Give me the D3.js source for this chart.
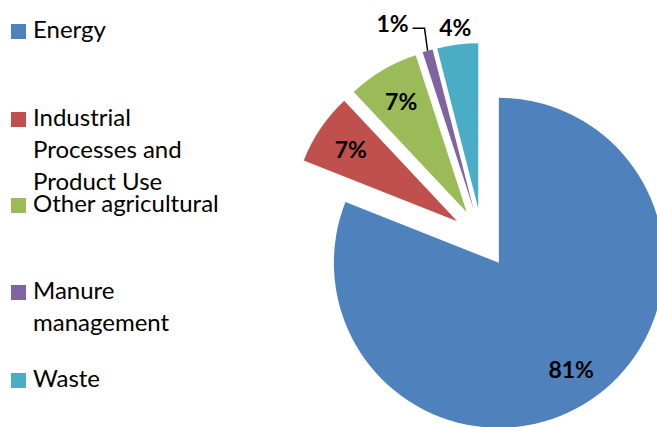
<!DOCTYPE html>
<html>
<head>
<meta charset="utf-8">
<script src="https://cdn.jsdelivr.net/npm/d3@7"></script>
<style>
  body { margin: 0; background: #fff; }
  svg { display: block; }
  text { font-family: Lato, "Open Sans", sans-serif; }
</style>
</head>
<body>
<svg id="chart" width="657" height="427"></svg>
<script>
// chart data
const categories = ["Energy", "Industrial Processes and Product Use", "Other agricultural", "Manure management", "Waste"];
const values = [81, 7, 7, 1, 4];
const legendLines = [["Energy"], ["Industrial", "Processes and", "Product Use"], ["Other agricultural"], ["Manure", "management"], ["Waste"]];
const colors = ["#4F81BD", "#C0504D", "#9BBB59", "#8064A2", "#4BACC6"];

const svg = d3.select("#chart");

const cx = 482, cy = 238;
const radius = 165;
const explode = 30;

const color = d3.scaleOrdinal().domain(categories).range(colors);

const pie = d3.pie().sort(null).value(d => d.value);
const arc = d3.arc().innerRadius(0).outerRadius(radius);

const rows = categories.map((c, i) => ({ name: c, value: values[i], lines: legendLines[i] }));
const arcs = pie(rows);

function mid(d) { return (d.startAngle + d.endAngle) / 2; }
function polar(a, r) { return [Math.sin(a) * r, -Math.cos(a) * r]; }

const g = svg.append("g").attr("transform", `translate(${cx},${cy})`);

const slice = g.selectAll("g.slice")
  .data(arcs)
  .enter()
  .append("g")
  .attr("class", "slice")
  .attr("transform", d => {
    const p = polar(mid(d), explode);
    return `translate(${p[0]},${p[1]})`;
  });

slice.append("path")
  .attr("d", arc)
  .attr("fill", d => color(d.data.name));

// labels: big slices inside, small ones outside
slice.each(function(d) {
  const s = d3.select(this);
  const a = mid(d);
  const small = d.data.value < 5;
  let p = polar(a, small ? radius * 1.11 : radius * 0.78);
  if (d.data.value === 1) {
    // pushed aside by the neighbouring label, with a leader line
    p = [p[0] - 30, p[1] - 10];
    const end = polar(a, radius);
    s.append("polyline")
      .attr("points", [[p[0] + 20, p[1] + 5], [p[0] + 32, p[1] + 5], end].map(q => q.join(",")).join(" "))
      .attr("fill", "none")
      .attr("stroke", "#000")
      .attr("stroke-width", 1.5);
  }
  s.append("text")
    .attr("x", p[0])
    .attr("y", p[1])
    .attr("text-anchor", "middle")
    .attr("dominant-baseline", "central")
    .style("font-size", "23px")
    .style("font-weight", "bold")
    .text(d.data.value + "%");
});

// legend
const rowY = [38, 126, 212, 299, 387];
const legend = svg.append("g");
rows.forEach((r, i) => {
  legend.append("rect")
    .attr("x", 11).attr("y", rowY[i] - 14)
    .attr("width", 15).attr("height", 15)
    .attr("fill", color(r.name));
  r.lines.forEach((line, j) => {
    legend.append("text")
      .attr("x", 33)
      .attr("y", rowY[i] + j * 32)
      .style("font-size", "24px")
      .attr("fill", "#000")
      .text(line);
  });
});
</script>
</body>
</html>
